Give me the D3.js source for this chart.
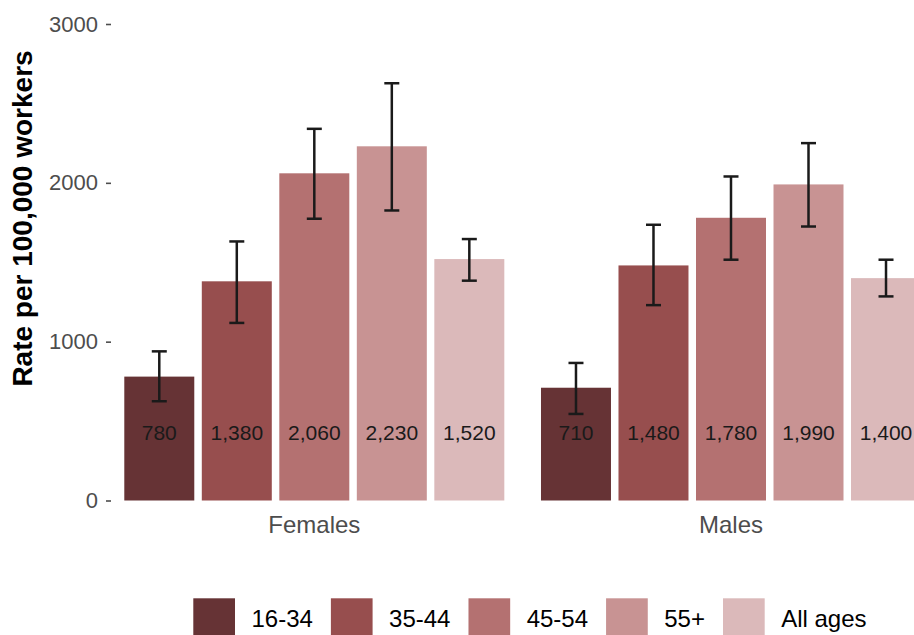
<!DOCTYPE html>
<html>
<head>
<meta charset="utf-8">
<script src="https://cdn.jsdelivr.net/npm/d3@7"></script>
<style>
  html, body { margin: 0; padding: 0; background: #ffffff; }
  svg { display: block; overflow: hidden; }
  text { font-family: "Liberation Sans", Arial, sans-serif; }
</style>
</head>
<body>
<svg id="chart" width="914" height="635"></svg>
<script>
// ---- data ----
const groups = ["Females", "Males"];
const ageBands = ["16-34", "35-44", "45-54", "55+", "All ages"];
const femalesRate = [780, 1380, 2060, 2230, 1520];
const malesRate = [710, 1480, 1780, 1990, 1400];
const femalesLower = [625, 1118, 1774, 1826, 1384];
const femalesUpper = [939, 1631, 2340, 2627, 1646];
const malesLower = [545, 1230, 1516, 1725, 1285];
const malesUpper = [866, 1736, 2040, 2250, 1516];
const barLabels = {
  Females: ["780", "1,380", "2,060", "2,230", "1,520"],
  Males: ["710", "1,480", "1,780", "1,990", "1,400"]
};
const yTicks = [0, 1000, 2000, 3000];
const colors = ["#663335", "#974e4e", "#b47171", "#c89393", "#dbb9ba"];
const yTitle = "Rate per 100,000 workers";
const labelValue = 430; // data-space height at which value labels sit

// build table
const rows = [];
groups.forEach(g => {
  const r = g === "Females" ? femalesRate : malesRate;
  const lo = g === "Females" ? femalesLower : malesLower;
  const hi = g === "Females" ? femalesUpper : malesUpper;
  ageBands.forEach((a, i) => rows.push({group: g, age: a, value: r[i], lower: lo[i], upper: hi[i], label: barLabels[g][i]}));
});

const svg = d3.select("#chart");

const y = d3.scaleLinear().domain([0, 3000]).range([500.5, 24]);
const x0 = d3.scaleBand().domain(groups).range([110, 935.3]).paddingInner(0.088).paddingOuter(0.0343);
const x1 = d3.scaleBand().domain(ageBands).range([0, x0.bandwidth()]).paddingInner(0.097);
const color = d3.scaleOrdinal().domain(ageBands).range(colors);

// y axis
const yAxis = d3.axisLeft(y).tickValues(yTicks).tickSize(5).tickPadding(8).tickFormat(d3.format("d"));
const yg = svg.append("g").attr("transform", "translate(111,0)").call(yAxis);
yg.select(".domain").remove();
yg.selectAll(".tick line").attr("stroke", "#4d4d4d").attr("stroke-width", 1.6);
yg.selectAll(".tick text")
  .attr("fill", "#4d4d4d")
  .style("font-size", "22px")
  .style("font-family", "Liberation Sans, Arial, sans-serif");

// y title
svg.append("text")
  .attr("transform", "translate(31.5,218.5) rotate(-90)")
  .attr("text-anchor", "middle")
  .style("font-size", "28px")
  .style("font-weight", "bold")
  .attr("fill", "#000")
  .text(yTitle);

// bars
const gGroups = svg.append("g");
const bars = gGroups.selectAll("g.grp").data(groups).join("g")
  .attr("class", "grp")
  .attr("transform", d => `translate(${x0(d)},0)`);

bars.selectAll("rect")
  .data(g => rows.filter(r => r.group === g))
  .join("rect")
  .attr("x", d => x1(d.age))
  .attr("width", x1.bandwidth())
  .attr("y", d => y(d.value))
  .attr("height", d => y(0) - y(d.value))
  .attr("fill", d => color(d.age));

// value labels
bars.selectAll("text.val")
  .data(g => rows.filter(r => r.group === g))
  .join("text")
  .attr("class", "val")
  .attr("x", d => x1(d.age) + x1.bandwidth() / 2)
  .attr("y", y(labelValue))
  .attr("dy", "0.36em")
  .attr("text-anchor", "middle")
  .style("font-size", "21px")
  .attr("fill", "#1a1a1a")
  .text(d => d.label);

// error bars
const capHalf = 7.5;
const eb = bars.selectAll("g.eb")
  .data(g => rows.filter(r => r.group === g))
  .join("g")
  .attr("class", "eb")
  .attr("transform", d => `translate(${x1(d.age) + x1.bandwidth() / 2},0)`)
  .attr("stroke", "#1a1a1a")
  .attr("stroke-width", 2.5);
eb.append("line").attr("x1", 0).attr("x2", 0).attr("y1", d => y(d.lower)).attr("y2", d => y(d.upper));
eb.append("line").attr("x1", -capHalf).attr("x2", capHalf).attr("y1", d => y(d.lower)).attr("y2", d => y(d.lower));
eb.append("line").attr("x1", -capHalf).attr("x2", capHalf).attr("y1", d => y(d.upper)).attr("y2", d => y(d.upper));

// x axis labels
const xAxis = d3.axisBottom(x0).tickSize(0).tickPadding(0);
const xg = svg.append("g").attr("transform", "translate(0,515)").call(xAxis);
xg.select(".domain").remove();
xg.selectAll(".tick text")
  .attr("y", 0)
  .attr("dy", "0.75em")
  .attr("fill", "#4d4d4d")
  .style("font-size", "24px")
  .style("font-family", "Liberation Sans, Arial, sans-serif");

// legend
const leg = svg.append("g").attr("transform", "translate(193.3,598.3)");
let cx = 0;
const keySize = 41.7;
ageBands.forEach((a, i) => {
  const item = leg.append("g").attr("transform", `translate(${cx},0)`);
  item.append("rect").attr("width", keySize).attr("height", keySize).attr("fill", color(a));
  const t = item.append("text")
    .attr("x", keySize + 16.5)
    .attr("y", 28.5)
    .style("font-size", "24px")
    .attr("fill", "#000")
    .text(a);
  const w = t.node().getComputedTextLength();
  cx += keySize + 16.5 + w + 18;
});
</script>
</body>
</html>
